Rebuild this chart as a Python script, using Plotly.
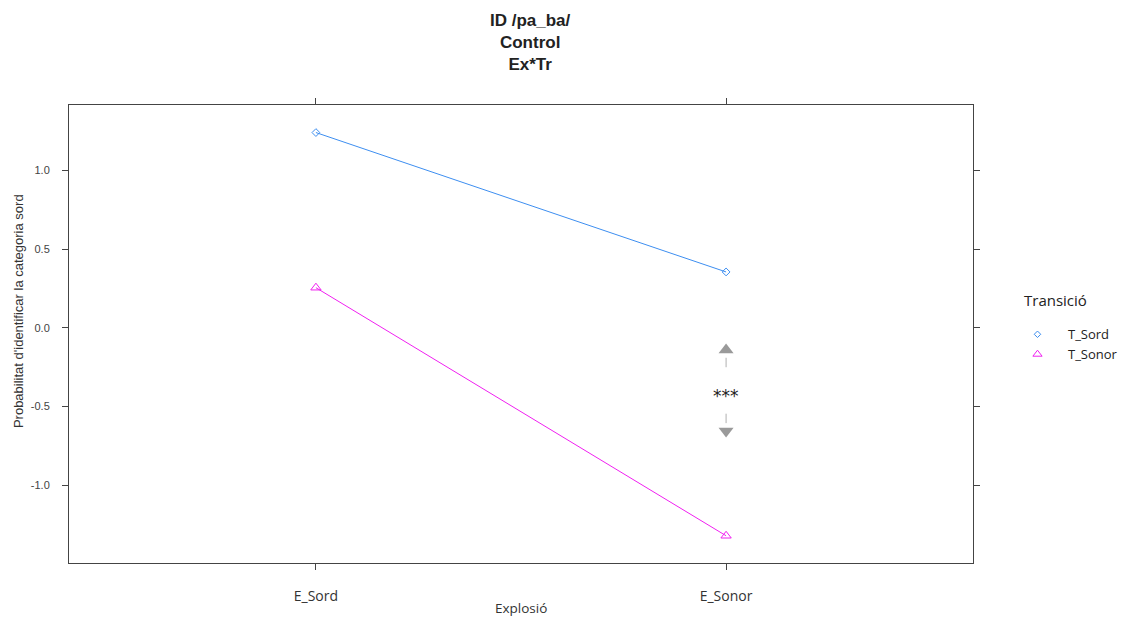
import plotly.graph_objects as go

categories = ["E_Sord", "E_Sonor"]
series_names = ["T_Sord", "T_Sonor"]
t_sord = [1.24, 0.355]
t_sonor = [0.255, -1.32]
y_ticks = [-1.0, -0.5, 0.0, 0.5, 1.0]
y_tick_labels = ["-1.0", "-0.5", "0.0", "0.5", "1.0"]

# significance marker between the groups at E_Sonor
sig_up = -0.14
sig_down = -0.655
sig_text_y = -0.43
sig_label = "***"

colors = ["#3d8ef0", "#f020f0"]
symbols = ["diamond-open", "triangle-up-open"]
sizes = [6, 9]

fig = go.Figure()
for name, vals, c, s, sz in zip(series_names, [t_sord, t_sonor], colors, symbols, sizes):
    fig.add_trace(go.Scatter(x=[0, 1], y=vals, mode="lines+markers",
                             line=dict(color=c, width=1),
                             marker=dict(symbol=s, size=sz, color=c, line=dict(width=1, color=c)),
                             showlegend=False, name=name))
    fig.add_trace(go.Scatter(x=[None], y=[None], mode="markers",
                             marker=dict(symbol=s, size=sz - 1, color=c, line=dict(width=1, color=c)),
                             name=name, showlegend=True))

# grey triangles
fig.add_trace(go.Scatter(x=[1, 1], y=[sig_up, sig_down], mode="markers",
                         marker=dict(symbol=["triangle-up", "triangle-down"], size=13, color="#9a9a9a"),
                         showlegend=False, hoverinfo="skip"))
# small dashes
for y0, y1 in [(sig_up - 0.05, sig_up - 0.11), (sig_down + 0.05, sig_down + 0.11)]:
    fig.add_trace(go.Scatter(x=[1, 1], y=[y0, y1], mode="lines",
                             line=dict(color="#b0b0b0", width=1),
                             showlegend=False, hoverinfo="skip"))
fig.add_annotation(x=1, y=sig_text_y, text=sig_label, showarrow=False,
                   font=dict(family="DejaVu Sans", size=17, color="#222"))

fig.update_layout(
    width=1127, height=617,
    margin=dict(l=69, r=154, t=105, b=54, autoexpand=False),
    paper_bgcolor="white", plot_bgcolor="white",
    font=dict(family="Liberation Sans, Arial", color="#333"),
    showlegend=True,
    legend=dict(x=1.0376, y=0.532, xanchor="left", yanchor="top",
                font=dict(family="Open Sans", size=13, color="#222"),
                itemwidth=51, tracegroupgap=0, bgcolor="rgba(0,0,0,0)"),
)
# legend title
fig.add_annotation(xref="paper", yref="paper", x=1.054, y=0.574, xanchor="left", yanchor="middle",
                   text="Transició", showarrow=False,
                   font=dict(family="Open Sans", size=15, color="#222"))
fig.add_annotation(xref="paper", yref="paper", x=0.51, y=1.0, yshift=96, yanchor="top",
                   text="<b>ID /pa_ba/</b><br><b>Control</b><br><b>Ex*Tr</b>",
                   showarrow=False, align="center",
                   font=dict(family="Liberation Sans, Arial", size=17, color="#222"))
fig.add_annotation(xref="paper", yref="paper", x=0.5, y=0, yshift=-45, yanchor="middle",
                   text="Explosió", showarrow=False,
                   font=dict(family="Open Sans", size=13.5, color="#333"))
fig.add_annotation(xref="paper", yref="paper", x=0, xshift=-51, xanchor="center",
                   y=0.55, yanchor="middle", textangle=-90,
                   text="Probabilitat d'identificar la categoria sord", showarrow=False,
                   font=dict(family="Liberation Sans, Arial", size=13, color="#333"))

fig.update_xaxes(range=[-0.602, 1.602], tickvals=[0, 1], ticktext=categories,
                 showgrid=False, zeroline=False, showline=True, linecolor="#444", linewidth=1,
                 mirror="ticks", ticks="outside", ticklen=6, tickcolor="#444",
                 ticklabelstandoff=14,
                 tickfont=dict(family="Open Sans", size=14, color="#333"))
fig.update_yaxes(range=[-1.493, 1.415], tickvals=y_ticks, ticktext=y_tick_labels,
                 showgrid=False, zeroline=False, showline=True, linecolor="#444", linewidth=1,
                 mirror="ticks", ticks="outside", ticklen=6, tickcolor="#444",
                 ticklabelstandoff=10,
                 tickfont=dict(family="Liberation Sans, Arial", size=11, color="#444"))

fig.write_html("out.html")
